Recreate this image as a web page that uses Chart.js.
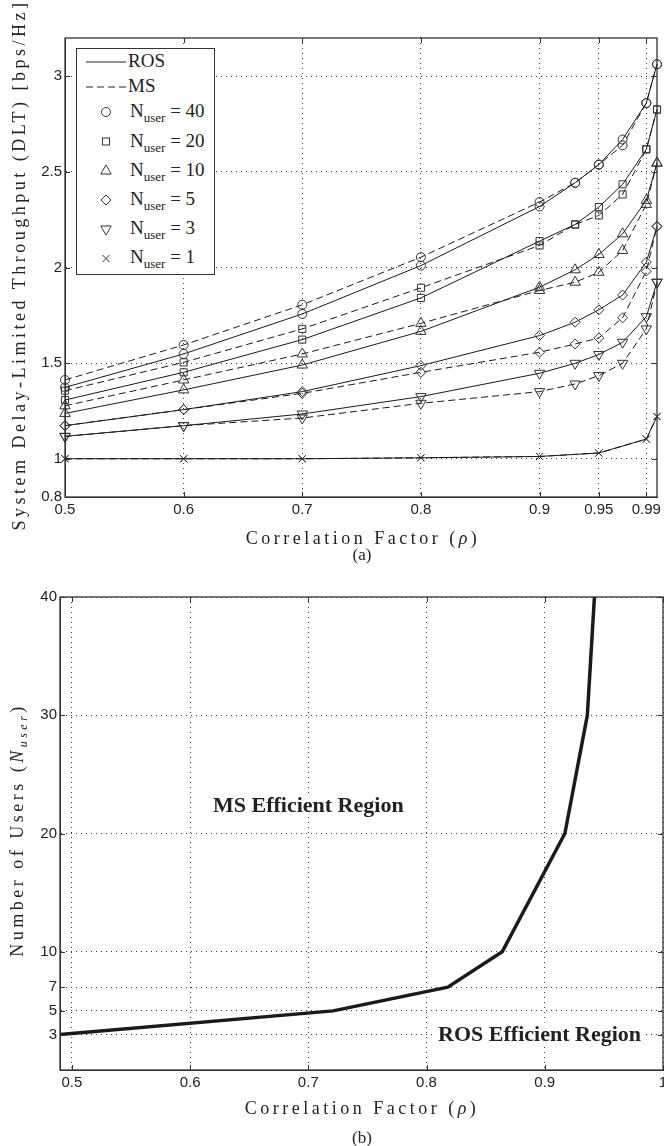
<!DOCTYPE html>
<html>
<head>
<meta charset="utf-8">
<title>ROS vs MS throughput</title>
<script src="https://cdn.jsdelivr.net/npm/chart.js@4.4.1/dist/chart.umd.min.js"></script>
<style>
  body { margin: 0; background: #fff; }
  #page { position: relative; width: 664px; height: 1146px; overflow: hidden; background: #fff; }
  .plot { position: absolute; left: 0; width: 664px; }
  .title { position: absolute; font-family: "Liberation Serif", "Times New Roman", serif; color: #222;
           white-space: nowrap; font-size: 18px; letter-spacing: 3.5px; }
  .title.x { transform: translate(-50%, -50%); }
  .title.y { transform: translate(-50%, -50%) rotate(-90deg); }
  .caption { position: absolute; font-family: "Liberation Serif", "Times New Roman", serif; color: #222;
             font-size: 17px; transform: translate(-50%, -50%); }
  #legendA { position: absolute; left: 76px; top: 48px; }
</style>
</head>
<body>
<div id="page">
  <div class="plot" style="top:0;height:570px;"><canvas id="chartA"></canvas></div>
  <div class="plot" style="top:570px;height:576px;"><canvas id="chartB"></canvas></div>

  <div class="title y" style="left:19px;top:265px;">System Delay-Limited Throughput (DLT) [bps/Hz]</div>
  <div class="title x" style="left:363px;top:538px;">Correlation Factor (<i>ρ</i>)</div>
  <div class="caption" style="left:362px;top:555px;">(a)</div>

  <div class="title y" style="left:19px;top:830px;">Number of Users (<i>N</i><sub style="font-size:12px;"><i>user</i></sub>)</div>
  <div class="title x" style="left:362px;top:1108px;">Correlation Factor (<i>ρ</i>)</div>
  <div class="caption" style="left:362px;top:1138px;">(b)</div>

  <svg id="legendA" width="140" height="228" font-family="Liberation Serif, Times New Roman, serif" fill="#222">
    <rect x="0.5" y="0.5" width="138" height="226" fill="#fff" stroke="#333" stroke-width="1"/>
    <line x1="10" y1="14" x2="50" y2="14" stroke="#222" stroke-width="1"/>
    <text x="52" y="19" font-size="19">ROS</text>
    <line x1="10" y1="39" x2="50" y2="39" stroke="#222" stroke-width="1" stroke-dasharray="7,4"/>
    <text x="52" y="44" font-size="19">MS</text>
    <g fill="none" stroke="#333" stroke-width="1">
      <circle cx="30" cy="64" r="4.5"/>
      <rect x="26.5" y="90" width="7" height="7"/>
      <polygon points="30,117 35.2,126 24.8,126"/>
      <polygon points="30,147 35,152 30,157 25,152"/>
      <polygon points="30,187 35.2,178 24.8,178"/>
      <path d="M26.5,207 L33.5,214 M33.5,207 L26.5,214"/>
    </g>
    <g font-size="19" style="white-space:pre">
      <text x="54" y="69">N<tspan font-size="13" dy="5">user</tspan><tspan dy="-5"> = 40</tspan></text>
      <text x="54" y="99">N<tspan font-size="13" dy="5">user</tspan><tspan dy="-5"> = 20</tspan></text>
      <text x="54" y="128">N<tspan font-size="13" dy="5">user</tspan><tspan dy="-5"> = 10</tspan></text>
      <text x="54" y="157">N<tspan font-size="13" dy="5">user</tspan><tspan dy="-5"> = 5</tspan></text>
      <text x="54" y="186">N<tspan font-size="13" dy="5">user</tspan><tspan dy="-5"> = 3</tspan></text>
      <text x="54" y="215">N<tspan font-size="13" dy="5">user</tspan><tspan dy="-5"> = 1</tspan></text>
    </g>
  </svg>
</div>

<script>
// ---- plot (a): correlation factor samples
const rho = [0.5, 0.6, 0.7, 0.8, 0.9, 0.93, 0.95, 0.97, 0.99, 0.999];
const userCounts = [40, 20, 10, 5, 3, 1];

// DLT with ROS (solid lines)
const rosN40 = [1.373, 1.548, 1.757, 2.010, 2.319, 2.443, 2.538, 2.669, 2.860, 3.063];
const rosN20 = [1.307, 1.452, 1.623, 1.841, 2.138, 2.225, 2.316, 2.435, 2.618, 2.826];
const rosN10 = [1.237, 1.360, 1.490, 1.666, 1.897, 1.988, 2.068, 2.176, 2.351, 2.546];
const rosN5  = [1.173, 1.257, 1.351, 1.487, 1.644, 1.714, 1.779, 1.856, 2.028, 2.215];
const rosN3  = [1.117, 1.173, 1.234, 1.325, 1.447, 1.499, 1.545, 1.609, 1.743, 1.923];
const rosN1  = [1.000, 1.000, 1.000, 1.005, 1.012, null, 1.030, null, 1.103, 1.221];

// DLT with MS (dashed lines)
const msN40 = [1.412, 1.595, 1.805, 2.054, 2.342, 2.443, 2.538, 2.639, 2.860, 3.063];
const msN20 = [1.356, 1.504, 1.679, 1.894, 2.115, 2.225, 2.272, 2.382, 2.618, 2.826];
const msN10 = [1.277, 1.412, 1.548, 1.708, 1.880, 1.923, 1.975, 2.089, 2.330, 2.546];
const msN5  = [1.173, 1.257, 1.342, 1.452, 1.557, 1.600, 1.632, 1.737, 1.981, 2.215];
const msN3  = [1.117, 1.173, 1.213, 1.290, 1.351, 1.391, 1.435, 1.499, 1.679, 1.923];
const msN1  = [1.000, 1.000, 1.000, 1.005, 1.012, null, 1.030, null, 1.103, 1.221];

const xTicksA = [0.5, 0.6, 0.7, 0.8, 0.9, 0.95, 0.99];
const yTicksA = [0.8, 1, 1.5, 2, 2.5, 3];

// ---- plot (b): ROS / MS boundary
const boundaryRho   = [0.49, 0.721, 0.818, 0.864, 0.917, 0.936, 0.942];
const boundaryUsers = [3, 5, 7, 10, 20, 30, 40];
const xTicksB = [0.5, 0.6, 0.7, 0.8, 0.9, 1];
const yTicksB = [3, 5, 7, 10, 20, 30, 40];

const ros = [rosN40, rosN20, rosN10, rosN5, rosN3, rosN1];
const ms  = [msN40, msN20, msN10, msN5, msN3, msN1];
const markers = [
  { style: 'circle', radius: 4.5, rotation: 0 },
  { style: 'rect', radius: 5, rotation: 0 },
  { style: 'triangle', radius: 6, rotation: 0 },
  { style: 'rectRot', radius: 5, rotation: 0 },
  { style: 'triangle', radius: 6, rotation: 180 },
  { style: 'crossRot', radius: 5, rotation: 0 }
];

const tickFont = { family: '"Liberation Sans", Arial, sans-serif', size: 15 };

function toPoints(values) {
  const pts = [];
  values.forEach((v, i) => { if (v !== null) pts.push({ x: rho[i], y: v }); });
  return pts;
}

function makeDataset(values, idx, dashed) {
  const m = markers[idx];
  return {
    label: (dashed ? 'MS' : 'ROS') + ' N=' + userCounts[idx],
    data: toPoints(values),
    borderColor: '#1a1a1a',
    borderWidth: 1,
    borderDash: dashed ? [7, 4] : [],
    pointStyle: m.style,
    pointRadius: m.radius,
    pointRotation: m.rotation,
    pointBorderColor: '#333',
    pointBorderWidth: 1,
    pointBackgroundColor: 'rgba(0,0,0,0)',
    tension: 0,
    clip: false
  };
}

// frame around the plot area plus inward tick marks (matlab style box)
const boxFrame = {
  id: 'boxFrame',
  afterDatasetsDraw(chart, args, opts) {
    const { ctx, chartArea: a, scales } = chart;
    const L = opts.len || 5;
    ctx.save();
    ctx.setLineDash([]);
    ctx.strokeStyle = opts.color || '#333';
    ctx.lineWidth = opts.width || 1;
    ctx.beginPath();
    scales.x.ticks.forEach(t => {
      const px = Math.round(scales.x.getPixelForValue(t.value)) + 0.5;
      ctx.moveTo(px, a.bottom); ctx.lineTo(px, a.bottom - L);
      ctx.moveTo(px, a.top); ctx.lineTo(px, a.top + L);
    });
    scales.y.ticks.forEach(t => {
      const py = Math.round(scales.y.getPixelForValue(t.value)) + 0.5;
      ctx.moveTo(a.left, py); ctx.lineTo(a.left + L, py);
      ctx.moveTo(a.right, py); ctx.lineTo(a.right - L, py);
    });
    ctx.stroke();
    ctx.lineWidth = opts.frameWidth || 1.3;
    ctx.strokeStyle = opts.frameColor || '#333';
    ctx.strokeRect(a.left, a.top, a.right - a.left, a.bottom - a.top);
    ctx.restore();
  }
};

// region names in plot (b), placed in data coordinates
const regionLabels = {
  id: 'regionLabels',
  afterDraw(chart, args, opts) {
    if (!opts.items) return;
    const { ctx, scales } = chart;
    ctx.save();
    ctx.font = opts.font;
    ctx.textAlign = 'center';
    ctx.textBaseline = 'middle';
    opts.items.forEach(it => {
      const px = scales.x.getPixelForValue(it.x);
      const py = scales.y.getPixelForValue(it.y);
      const w = ctx.measureText(it.text).width;
      ctx.fillStyle = '#fff';
      ctx.fillRect(px - w / 2 - 4, py - 12, w + 8, 24);
      ctx.fillStyle = opts.color;
      ctx.fillText(it.text, px, py + 1);
    });
    ctx.restore();
  }
};

function axis(min, max, tickValues, size, isX) {
  return {
    type: 'linear',
    min: min,
    max: max,
    afterBuildTicks: s => { s.ticks = tickValues.map(v => ({ value: v })); },
    afterFit: s => {
      if (isX) { s.height = size; s.paddingLeft = 0; s.paddingRight = 0; }
      else { s.width = size; s.paddingTop = 0; s.paddingBottom = 0; }
    },
    grid: { color: '#3a3a3a', lineWidth: 1, drawTicks: false },
    border: { display: true, color: '#333', width: 1, dash: [1, 4] },
    ticks: {
      font: tickFont,
      color: '#222',
      padding: isX ? 4 : 3,
      maxRotation: 0,
      autoSkip: false,
      callback: v => String(v)
    }
  };
}

document.addEventListener('DOMContentLoaded', function() {
  Chart.defaults.animation = false;

  const datasetsA = [];
  ros.forEach((vals, i) => datasetsA.push(makeDataset(vals, i, false)));
  ms.forEach((vals, i) => datasetsA.push(makeDataset(vals, i, true)));

  new Chart(document.getElementById('chartA'), {
    type: 'line',
    data: { datasets: datasetsA },
    options: {
      responsive: true,
      maintainAspectRatio: false,
      layout: { padding: { left: 31, top: 38, right: 4, bottom: 51 } },
      plugins: { legend: { display: false }, tooltip: { enabled: false }, boxFrame: { len: 5 } },
      scales: {
        x: axis(0.5, 0.999, xTicksA, 22, true),
        y: axis(0.8, 3.2, yTicksA, 34, false)
      }
    },
    plugins: [boxFrame]
  });

  new Chart(document.getElementById('chartB'), {
    type: 'line',
    data: {
      datasets: [{
        label: 'boundary',
        data: boundaryRho.map((r, i) => ({ x: r, y: boundaryUsers[i] })),
        borderColor: '#1a1a1a',
        borderWidth: 3.5,
        pointRadius: 0,
        tension: 0,
        clip: false
      }]
    },
    options: {
      responsive: true,
      maintainAspectRatio: false,
      layout: { padding: { left: 34, top: 27, right: 1, bottom: 54 } },
      plugins: {
        legend: { display: false },
        tooltip: { enabled: false },
        boxFrame: { len: 5 },
        regionLabels: {
          font: 'bold 22px "Liberation Serif", "Times New Roman", serif',
          color: '#222',
          items: [
            { text: 'MS Efficient Region', x: 0.70, y: 22.4 },
            { text: 'ROS Efficient Region', x: 0.8956, y: 3 }
          ]
        }
      },
      scales: {
        x: axis(0.49, 1, xTicksB, 22, true),
        y: axis(0, 40, yTicksB, 26, false)
      }
    },
    plugins: [boxFrame, regionLabels]
  });
});
</script>
</body>
</html>
